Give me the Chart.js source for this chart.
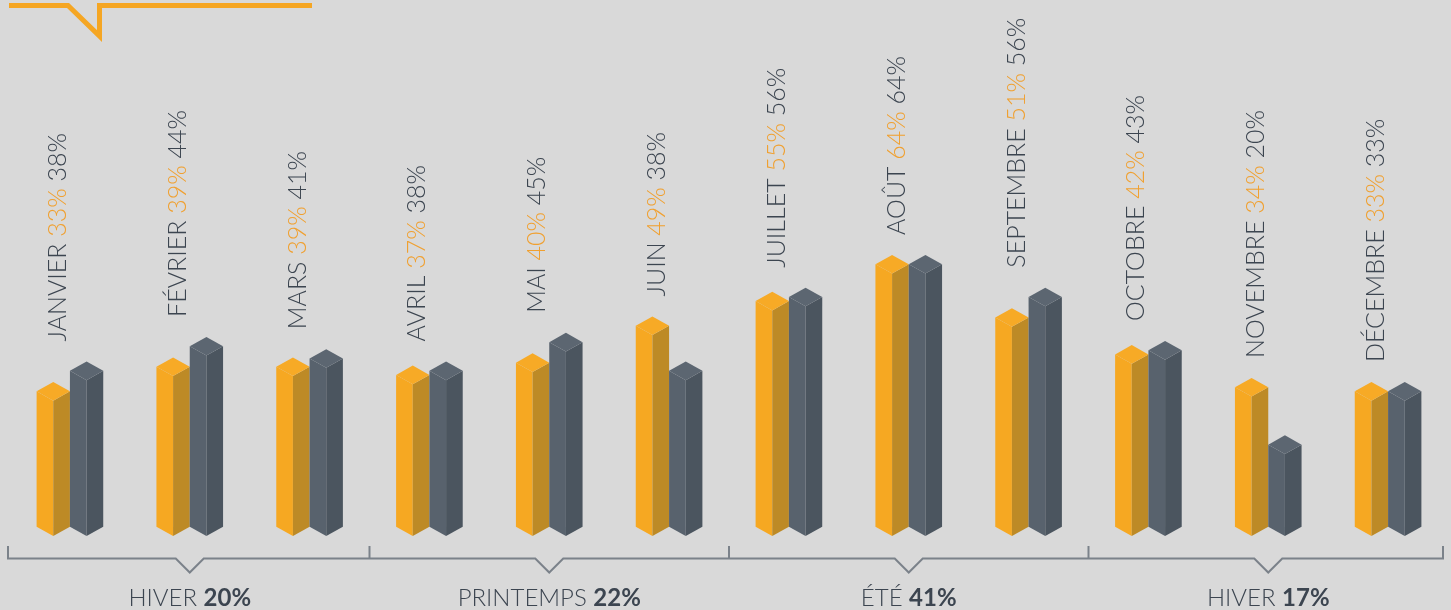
<!DOCTYPE html>
<html>
<head>
<meta charset="utf-8">
<script src="https://cdn.jsdelivr.net/npm/chart.js@4/dist/chart.umd.min.js"></script>
<style>
  html, body { margin: 0; padding: 0; background: #d9d9d9; }
  #wrap { width: 1451px; height: 610px; position: relative; }
</style>
</head>
<body>
<div id="wrap"><canvas id="c" width="1451" height="610"></canvas></div>
<script>
const months = ['JANVIER','FÉVRIER','MARS','AVRIL','MAI','JUIN','JUILLET','AOÛT','SEPTEMBRE','OCTOBRE','NOVEMBRE','DÉCEMBRE'];
const orangeValues = [33, 39, 39, 37, 40, 49, 55, 64, 51, 42, 34, 33];
const grayValues   = [38, 44, 41, 38, 45, 38, 56, 64, 56, 43, 20, 33];
const seasons = ['HIVER', 'PRINTEMPS', 'ÉTÉ', 'HIVER'];
const seasonValues = [20, 22, 41, 17];
const monthsPerSeason = 3;

const ORANGE = { front: '#f6a822', side: '#bd8a26', top: '#f7aa26' };
const GRAY   = { front: '#58626d', side: '#4b555f', top: '#5c6671' };
const TEXT_DARK = '#3c4550';
const TEXT_ORANGE = '#f0a030';
const LINE_GRAY = '#7b828a';
const FONT = 'Lato, "Open Sans", sans-serif';

const prismPlugin = {
  id: 'prisms',
  afterDatasetsDraw(chart) {
    const ctx = chart.ctx;
    const y = chart.scales.y;
    const base = y.getPixelForValue(0);
    const palettes = [ORANGE, GRAY];
    chart.data.datasets.forEach((ds, di) => {
      const meta = chart.getDatasetMeta(di);
      const pal = palettes[di];
      meta.data.forEach((bar) => {
        const cx = bar.x;
        const w = bar.width / 2;
        const dy = w * 0.56;
        const yt = bar.y;
        const yb = base;
        ctx.save();
        ctx.fillStyle = pal.front;
        ctx.beginPath();
        ctx.moveTo(cx - w, yt - dy);
        ctx.lineTo(cx, yt);
        ctx.lineTo(cx, yb);
        ctx.lineTo(cx - w, yb - dy);
        ctx.closePath();
        ctx.fill();
        ctx.fillStyle = pal.side;
        ctx.beginPath();
        ctx.moveTo(cx, yt);
        ctx.lineTo(cx + w, yt - dy);
        ctx.lineTo(cx + w, yb - dy);
        ctx.lineTo(cx, yb);
        ctx.closePath();
        ctx.fill();
        ctx.fillStyle = pal.top;
        ctx.beginPath();
        ctx.moveTo(cx - w, yt - dy);
        ctx.lineTo(cx, yt - 2 * dy);
        ctx.lineTo(cx + w, yt - dy);
        ctx.lineTo(cx, yt);
        ctx.closePath();
        ctx.fill();
        ctx.restore();
      });
    });

    // rotated month labels
    const xs = chart.scales.x;
    const metaO = chart.getDatasetMeta(0), metaG = chart.getDatasetMeta(1);
    ctx.save();
    ctx.font = '300 25px ' + FONT;
    ctx.textBaseline = 'alphabetic';
    ctx.textAlign = 'left';
    months.forEach((m, i) => {
      const cx = xs.getPixelForValue(i);
      const bo = metaO.data[i], bg = metaG.data[i];
      const topY = Math.min(bo.y, bg.y) - bo.width * 0.56;
      ctx.save();
      ctx.translate(cx - 4, topY - 20);
      ctx.rotate(-Math.PI / 2);
      let px = 0;
      const parts = [
        [m + ' ', TEXT_DARK],
        [orangeValues[i] + '%', TEXT_ORANGE],
        [' ' + grayValues[i] + '%', TEXT_DARK]
      ];
      parts.forEach(([t, c]) => {
        ctx.fillStyle = c;
        ctx.fillText(t, px, 0);
        px += ctx.measureText(t).width;
      });
      ctx.restore();
    });
    ctx.restore();

    // season brackets
    const half = (xs.getPixelForValue(1) - xs.getPixelForValue(0)) / 2;
    const lineY = 558.5, tickTop = 546, notchW = 14, notchD = 14;
    ctx.save();
    ctx.strokeStyle = LINE_GRAY;
    ctx.lineWidth = 2;
    const nSeasons = seasons.length;
    const leftEdge = xs.getPixelForValue(0) - half - 2;
    const rightEdge = xs.getPixelForValue(months.length - 1) + half - 5;
    ctx.beginPath();
    ctx.moveTo(leftEdge, tickTop);
    ctx.lineTo(leftEdge, lineY);
    for (let s = 0; s < nSeasons; s++) {
      const a = xs.getPixelForValue(s * monthsPerSeason);
      const b = xs.getPixelForValue(s * monthsPerSeason + monthsPerSeason - 1);
      const c = (a + b) / 2;
      ctx.lineTo(c - notchW, lineY);
      ctx.lineTo(c, lineY + notchD);
      ctx.lineTo(c + notchW, lineY);
    }
    ctx.lineTo(rightEdge, lineY);
    ctx.lineTo(rightEdge, tickTop);
    ctx.stroke();
    for (let s = 1; s < nSeasons; s++) {
      const bx = xs.getPixelForValue(s * monthsPerSeason) - half;
      ctx.beginPath();
      ctx.moveTo(bx, tickTop);
      ctx.lineTo(bx, lineY);
      ctx.stroke();
    }
    ctx.textBaseline = 'alphabetic';
    ctx.textAlign = 'left';
    for (let s = 0; s < nSeasons; s++) {
      const a = xs.getPixelForValue(s * monthsPerSeason);
      const b = xs.getPixelForValue(s * monthsPerSeason + monthsPerSeason - 1);
      const c = (a + b) / 2;
      const t1 = seasons[s] + ' ';
      const t2 = seasonValues[s] + '%';
      ctx.font = '300 24px ' + FONT;
      const w1 = ctx.measureText(t1).width;
      ctx.font = 'bold 24px ' + FONT;
      const w2 = ctx.measureText(t2).width;
      const x0 = c - (w1 + w2) / 2;
      ctx.fillStyle = TEXT_DARK;
      ctx.font = '300 24px ' + FONT;
      ctx.fillText(t1, x0, 606);
      ctx.font = 'bold 24px ' + FONT;
      ctx.fillText(t2, x0 + w1, 606);
    }
    ctx.restore();

    // top-left callout
    ctx.save();
    ctx.strokeStyle = '#f5a623';
    ctx.lineWidth = 5;
    ctx.lineJoin = 'miter';
    ctx.beginPath();
    ctx.moveTo(9, 5.5);
    ctx.lineTo(68, 5.5);
    ctx.lineTo(99.5, 36);
    ctx.lineTo(99.5, 5.5);
    ctx.lineTo(312, 5.5);
    ctx.stroke();
    ctx.restore();
  }
};

new Chart(document.getElementById('c'), {
  type: 'bar',
  data: {
    labels: months,
    datasets: [
      { label: 'orange', data: orangeValues, backgroundColor: 'rgba(0,0,0,0)', borderWidth: 0 },
      { label: 'gris', data: grayValues, backgroundColor: 'rgba(0,0,0,0)', borderWidth: 0 }
    ]
  },
  options: {
    responsive: false,
    animation: false,
    events: [],
    layout: { padding: { left: 10, right: 3, top: 0, bottom: 74 } },
    plugins: { legend: { display: false }, tooltip: { enabled: false } },
    datasets: { bar: { categoryPercentage: 0.556, barPercentage: 1.0 } },
    scales: {
      x: { display: false, offset: true },
      y: { display: false, min: 0, max: 130.7 }
    }
  },
  plugins: [prismPlugin]
});
</script>
</body>
</html>
